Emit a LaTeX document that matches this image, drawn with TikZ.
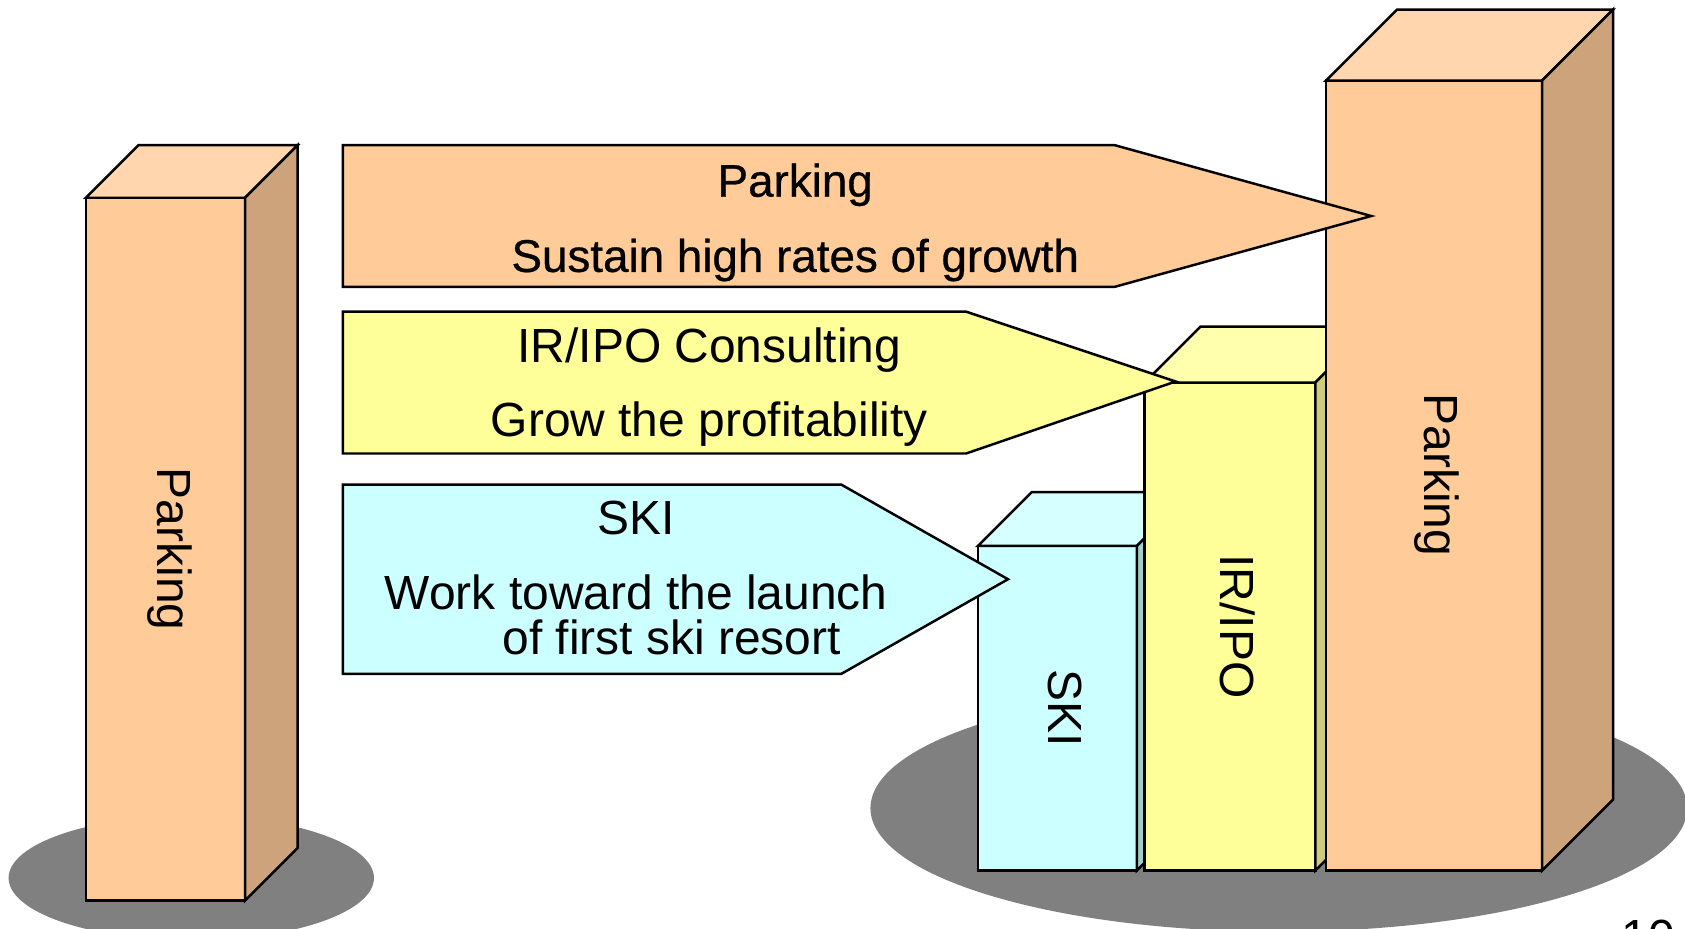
\documentclass[tikz,border=0pt]{standalone}
\usepackage{fontspec}
\setmainfont{Liberation Sans}
\newfontfamily\gothic[FakeBold=0.6]{Liberation Sans}
\definecolor{orfront}{HTML}{FFCC99}
\definecolor{ortop}{HTML}{FFD6AD}
\definecolor{orside}{HTML}{CCA37A}
\definecolor{yefront}{HTML}{FFFF99}
\definecolor{yetop}{HTML}{FFFFAD}
\definecolor{yeside}{HTML}{CCCC7A}
\definecolor{cyfront}{HTML}{CCFFFF}
\definecolor{cytop}{HTML}{D6FFFF}
\definecolor{cyside}{HTML}{A3CCCC}
\definecolor{shadow}{HTML}{808080}
% 3-D block: left, top, right, bottom of the front face, depth, colour prefix
\newcommand\blockbox[6]{%
  \filldraw[face, fill=#6front] (#1,#2) rectangle (#3,#4);
  \filldraw[face, fill=#6top] (#1,#2) -- (#1+#5,#2-#5) -- (#3+#5,#2-#5) -- (#3,#2) -- cycle;
  \filldraw[face, fill=#6side] (#3,#2) -- (#3+#5,#2-#5) -- (#3+#5,#4-#5) -- (#3,#4) -- cycle;
}
\begin{document}
\begin{tikzpicture}[x=0.5pt, y=-0.5pt,
  face/.style={draw=black, line width=1.15pt, line join=miter},
  lbl/.style={font=\fontsize{22.3}{26}\selectfont, inner sep=0pt},
  ttl/.style={font=\gothic\fontsize{21.3}{26}\selectfont, inner sep=0pt},
  vlbl/.style={lbl, rotate=-90, anchor=center}]
\clip (0,0) rectangle (1568,864);
\useasboundingbox (0,0) rectangle (1568,864);

% ground shadows
\fill[shadow] (178,817) ellipse [x radius=170, y radius=58];
\fill[shadow] (1190,752) ellipse [x radius=380, y radius=115];

% blocks
\blockbox{80}{184}{228}{838}{49}{or}
\blockbox{910}{508}{1058}{810}{50}{cy}
\blockbox{1065}{356}{1224}{810}{52}{ye}
\blockbox{1234}{75}{1435}{810}{66}{or}

\node[vlbl] (lpark) at (158,511) {Parking};
\node[vlbl] (rpark) at (1337,442) {Parking};
\node[vlbl] (irbar) at (1152,583) {IR/IPO};
\node[vlbl] (skibar) at (991,659) {SKI};

% pointer banners
\filldraw[face, fill=orfront] (319,135) -- (1037,135) -- (1276,201) -- (1037,267) -- (319,267) -- cycle;
\filldraw[face, fill=yefront] (319,290) -- (899,290) -- (1094,355) -- (899,422) -- (319,422) -- cycle;
\filldraw[face, fill=cyfront] (319,451) -- (783,451) -- (938,539) -- (783,627) -- (319,627) -- cycle;

\node[ttl, anchor=base] (ptitle) at (740,183) {Parking};
\node[ttl, anchor=base] (pgoal) at (740,253) {Sustain high rates of growth};
\node[lbl, anchor=base] (ititle) at (660,337) {IR/IPO Consulting};
\node[lbl, anchor=base] (igoal) at (660,406) {Grow the profitability};
\node[lbl, anchor=base] (stitle) at (592,497) {SKI};
\node[lbl, anchor=base] (sgoal) at (592,567) {Work toward the launch};
\node[lbl, anchor=base] (sgoalb) at (625,609) {of first ski resort};

% page number
\node[lbl, anchor=north] (pageno) at (1534,856) {10};
\end{tikzpicture}
\end{document}
